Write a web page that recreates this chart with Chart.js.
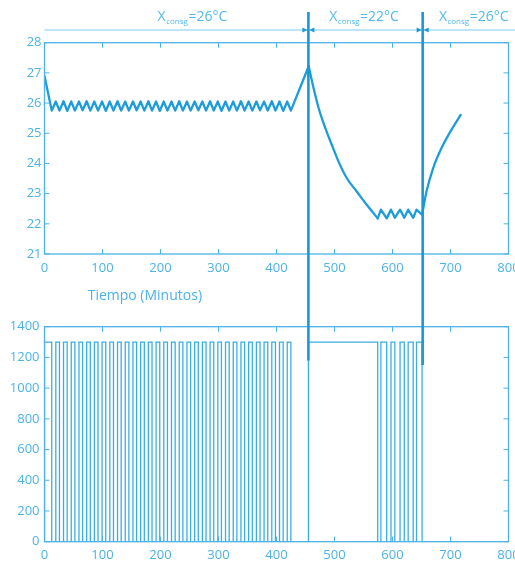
<!DOCTYPE html>
<html>
<head>
<meta charset="utf-8">
<script src="https://cdn.jsdelivr.net/npm/chart.js@4.4.1/dist/chart.umd.min.js"></script>
<style>
  html, body { margin: 0; padding: 0; background: #fff; }
  body { width: 515px; height: 561px; position: relative; overflow: hidden; }
  .panel { position: absolute; left: 0; width: 515px; }
  #temp { top: 0; height: 305px; }
  #pot { top: 305px; height: 256px; }
</style>
</head>
<body>
<div class="panel" id="temp"><canvas id="tempChart"></canvas></div>
<div class="panel" id="pot"><canvas id="potChart"></canvas></div>
<script>
// Temperatura (°C) en los vértices de la curva
const tiempoTemp = [0, 12.5,
  19.5, 25.8, 32.8, 39.1, 46.1, 52.4, 59.4, 65.7, 72.7, 79.0, 86.0, 92.3, 99.3, 105.6,
  112.6, 118.9, 125.9, 132.2, 139.2, 145.5, 152.5, 158.8, 165.8, 172.1, 179.1, 185.4,
  192.4, 198.7, 205.7, 212.0, 219.0, 225.3, 232.3, 238.6, 245.6, 251.9, 258.9, 265.2,
  272.2, 278.5, 285.5, 291.8, 298.8, 305.1, 312.1, 318.4, 325.4, 331.7, 338.7, 345.0,
  352.0, 358.3, 365.3, 371.6, 378.6, 384.9, 391.9, 398.2, 405.2, 411.5, 418.5, 424.8,
  455.5, 464, 472.7, 484.2, 495.5, 507, 521.3, 538.4, 555.6, 574.5,
  580, 590, 597.4, 604, 613, 620.3, 627, 635.7, 641.4, 651,
  658.6, 670, 684.3, 701.5, 717.5];
const temperatura = [26.9, 25.75,
  26.05, 25.75, 26.06, 25.74, 26.05, 25.75, 26.05, 25.76, 26.06, 25.75, 26.05, 25.75, 26.05, 25.74,
  26.05, 25.75, 26.06, 25.75, 26.05, 25.75, 26.05, 25.76, 26.05, 25.75, 26.06, 25.75,
  26.05, 25.74, 26.05, 25.75, 26.05, 25.75, 26.06, 25.75, 26.05, 25.75, 26.05, 25.76,
  26.05, 25.75, 26.06, 25.75, 26.05, 25.74, 26.05, 25.75, 26.05, 25.75, 26.06, 25.75,
  26.05, 25.75, 26.05, 25.76, 26.05, 25.75, 26.06, 25.75, 26.05, 25.74, 26.05, 25.75,
  27.22, 26.49, 25.83, 25.17, 24.61, 24.06, 23.51, 23.07, 22.63, 22.18,
  22.47, 22.18, 22.47, 22.2, 22.47, 22.2, 22.47, 22.2, 22.47, 22.3,
  23.07, 23.84, 24.5, 25.11, 25.61];
// tramos: [inicio, fin] (índices) y si son curvas suaves
const tramosTemp = [[0, 64, false], [64, 73, true], [73, 83, false], [83, 88, true]];

// Potencia: intervalos de encendido (minutos)
const pulsosInicio = [0,
  19.5, 32.8, 46.1, 59.4, 72.7, 86.0, 99.3, 112.6, 125.9, 139.2, 152.5, 165.8, 179.1,
  192.4, 205.7, 219.0, 232.3, 245.6, 258.9, 272.2, 285.5, 298.8, 312.1, 325.4, 338.7,
  352.0, 365.3, 378.6, 391.9, 405.2, 418.5,
  455, 580, 597.4, 613, 627, 641.4];
const pulsosFin = [12.5,
  25.8, 39.1, 52.4, 65.7, 79.0, 92.3, 105.6, 118.9, 132.2, 145.5, 158.8, 172.1, 185.4,
  198.7, 212.0, 225.3, 238.6, 251.9, 265.2, 278.5, 291.8, 305.1, 318.4, 331.7, 345.0,
  358.3, 371.6, 384.9, 398.2, 411.5, 424.8,
  574.5, 590, 604, 620.3, 635.7, 651];
const potenciaOn = 1300;
const finRegistro = 717;

// Cambios de consigna y etiquetas de la cabecera
const cambiosConsigna = [455, 652];
const consignas = ['26', '22', '26'];
const tiempoEtiquetas = [255, 551, 740];
const finMarcaPotencia = [1180, 1150];

const tiemposX = [0, 100, 200, 300, 400, 500, 600, 700, 800];
const ticksTemp = [21, 22, 23, 24, 25, 26, 27, 28];
const ticksPot = [0, 200, 400, 600, 800, 1000, 1200, 1400];

const COLOR_EJE = '#4cb3e6';
const COLOR_CURVA = '#1c9cd8';
const COLOR_POT = '#3aaee2';
const COLOR_MARCA = '#1a97d4';
const FUENTE = '"Open Sans", "Liberation Sans", sans-serif';

const puntosTemp = tiempoTemp.map((t, i) => ({ x: t, y: temperatura[i] }));
const datasetsTemp = tramosTemp.map(([ini, fin, suave]) => ({
    data: puntosTemp.slice(ini, fin + 1),
    showLine: true,
    borderColor: COLOR_CURVA,
    borderWidth: 2.3,
    pointRadius: 0,
    tension: suave ? 0.4 : 0,
    cubicInterpolationMode: suave ? 'monotone' : 'default',
    borderCapStyle: 'round',
    borderJoinStyle: 'round'
}));

const puntosPot = [];
pulsosInicio.forEach((ini, i) => {
    puntosPot.push({ x: ini, y: 0 }, { x: ini, y: potenciaOn }, { x: pulsosFin[i], y: potenciaOn }, { x: pulsosFin[i], y: 0 });
});
puntosPot.push({ x: finRegistro, y: 0 });

// Marco con ticks hacia dentro (estilo MATLAB)
const marcoPlugin = {
    id: 'marco',
    afterDraw(chart) {
        const { ctx, chartArea: a, scales } = chart;
        ctx.save();
        ctx.strokeStyle = COLOR_EJE;
        ctx.lineWidth = 1.3;
        ctx.strokeRect(a.left, a.top, a.right - a.left, a.bottom - a.top);
        ctx.lineWidth = 1;
        ctx.beginPath();
        scales.x.ticks.forEach(t => {
            const px = scales.x.getPixelForValue(t.value);
            ctx.moveTo(px, a.bottom); ctx.lineTo(px, a.bottom - 5);
            ctx.moveTo(px, a.top); ctx.lineTo(px, a.top + 5);
        });
        scales.y.ticks.forEach(t => {
            const py = scales.y.getPixelForValue(t.value);
            ctx.moveTo(a.left, py); ctx.lineTo(a.left + 5, py);
            ctx.moveTo(a.right, py); ctx.lineTo(a.right - 5, py);
        });
        ctx.stroke();
        ctx.restore();
    }
};

// Líneas de cambio de consigna + cabecera (gráfico de temperatura)
const cabeceraPlugin = {
    id: 'cabecera',
    afterDraw(chart) {
        const { ctx, scales, chartArea: a } = chart;
        const x = scales.x;
        ctx.save();
        // línea de cota
        ctx.strokeStyle = '#7fcbef';
        ctx.lineWidth = 1;
        ctx.beginPath();
        ctx.moveTo(a.left, 30); ctx.lineTo(chart.width, 30);
        ctx.stroke();
        // verticales
        ctx.strokeStyle = COLOR_MARCA;
        ctx.fillStyle = COLOR_MARCA;
        cambiosConsigna.forEach(t => {
            const px = x.getPixelForValue(t);
            ctx.lineWidth = 2.6;
            ctx.beginPath();
            ctx.moveTo(px, 12); ctx.lineTo(px, chart.height);
            ctx.stroke();
            ctx.beginPath();
            ctx.moveTo(px - 1, 30); ctx.lineTo(px - 6, 27.5); ctx.lineTo(px - 6, 32.5); ctx.closePath();
            ctx.moveTo(px + 1, 30); ctx.lineTo(px + 6, 27.5); ctx.lineTo(px + 6, 32.5); ctx.closePath();
            ctx.fill();
        });
        // etiquetas X_consg
        ctx.fillStyle = '#55b9e9';
        ctx.textBaseline = 'alphabetic';
        consignas.forEach((v, i) => {
            const grande = '14px ' + FUENTE;
            const chica = '8px ' + FUENTE;
            const resto = '=' + v + '°C';
            ctx.font = grande; const wX = ctx.measureText('X').width; const wR = ctx.measureText(resto).width;
            ctx.font = chica; const wS = ctx.measureText('consg').width;
            let px = x.getPixelForValue(tiempoEtiquetas[i]) - (wX + wS + wR + 1) / 2;
            const base = 21;
            ctx.font = grande; ctx.fillText('X', px, base); px += wX + 0.5;
            ctx.font = chica; ctx.fillText('consg', px, base + 3); px += wS + 0.5;
            ctx.font = grande; ctx.fillText(resto, px, base);
        });
        // título del eje
        ctx.font = '14px ' + FUENTE;
        ctx.textAlign = 'center';
        ctx.textBaseline = 'middle';
        ctx.fillStyle = '#4cb3e6';
        ctx.fillText('Tiempo (Minutos)', x.getPixelForValue(173), 296);
        ctx.restore();
    }
};

// Prolongación de las verticales en el gráfico de potencia
const marcasPotPlugin = {
    id: 'marcasPot',
    afterDraw(chart) {
        const { ctx, scales } = chart;
        ctx.save();
        ctx.strokeStyle = COLOR_MARCA;
        ctx.lineWidth = 2.6;
        cambiosConsigna.forEach((t, i) => {
            const px = scales.x.getPixelForValue(t);
            ctx.beginPath();
            ctx.moveTo(px, 0);
            ctx.lineTo(px, scales.y.getPixelForValue(finMarcaPotencia[i]));
            ctx.stroke();
        });
        ctx.restore();
    }
};

function ejes(yMin, yMax, yTicks, alturaX, padY) {
    return {
        x: {
            type: 'linear', min: 0, max: 800,
            afterBuildTicks: s => { s.ticks = tiemposX.map(v => ({ value: v })); },
            afterFit: s => { s.height = alturaX; s.paddingLeft = 0; s.paddingRight = 0; },
            grid: { display: false, drawTicks: false },
            border: { display: false },
            ticks: { color: COLOR_EJE, font: { family: FUENTE, size: 13 }, padding: 6, autoSkip: false, maxRotation: 0,
                     callback: v => String(v) }
        },
        y: {
            type: 'linear', min: yMin, max: yMax,
            afterBuildTicks: s => { s.ticks = yTicks.map(v => ({ value: v })); },
            afterFit: s => { s.width = 44.5; s.paddingTop = 0; s.paddingBottom = 0; },
            grid: { display: false, drawTicks: false },
            border: { display: false },
            ticks: { color: COLOR_EJE, font: { family: FUENTE, size: 13 }, padding: padY,
                     callback: v => String(v) }
        }
    };
}

const comunes = {
    responsive: true,
    maintainAspectRatio: false,
    animation: false,
    plugins: { legend: { display: false }, tooltip: { enabled: false } }
};

new Chart(document.getElementById('tempChart'), {
    type: 'scatter',
    data: { datasets: datasetsTemp },
    options: {
        ...comunes,
        layout: { padding: { top: 42.7, right: 6.5, left: 0, bottom: 0 } },
        scales: ejes(21, 28, ticksTemp, 51, 3)
    },
    plugins: [marcoPlugin, cabeceraPlugin]
});

new Chart(document.getElementById('potChart'), {
    type: 'scatter',
    data: {
        datasets: [{
            data: puntosPot,
            showLine: true,
            borderColor: COLOR_POT,
            borderWidth: 1.3,
            pointRadius: 0,
            tension: 0
        }]
    },
    options: {
        ...comunes,
        layout: { padding: { top: 21.7, right: 6.5, left: 0, bottom: 0 } },
        scales: ejes(0, 1400, ticksPot, 19.3, 5)
    },
    plugins: [marcoPlugin, marcasPotPlugin]
});
</script>
</body>
</html>
